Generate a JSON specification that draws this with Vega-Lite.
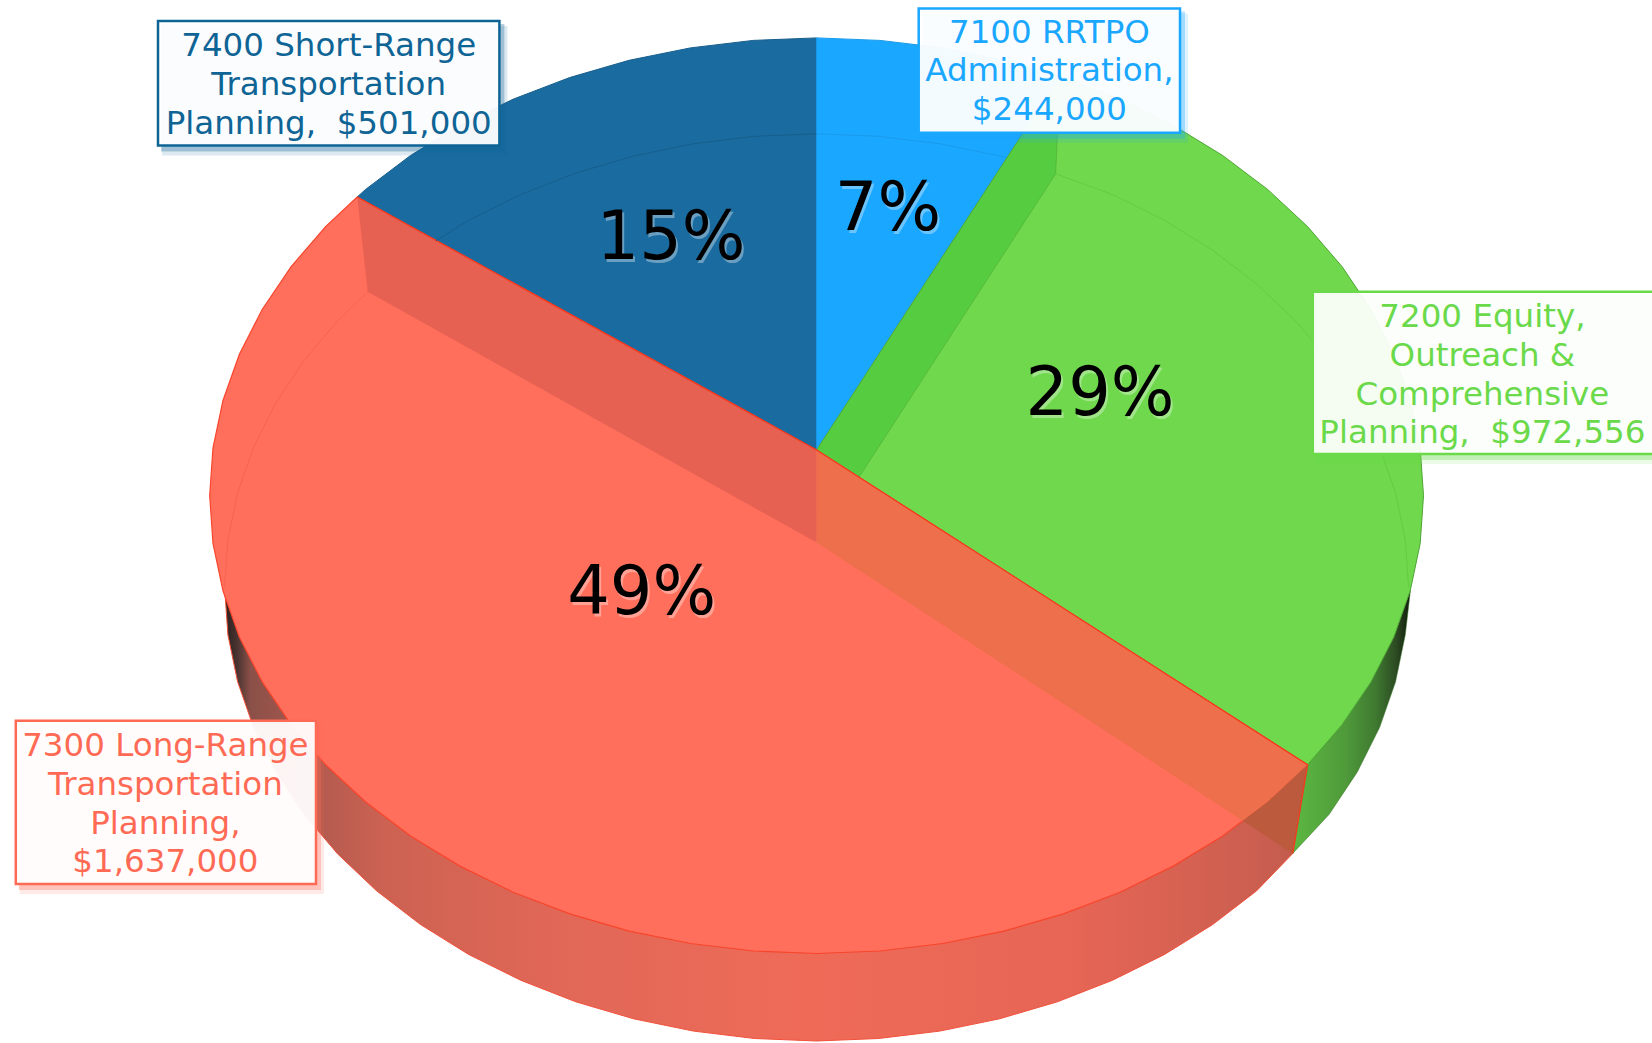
{
"$schema":"https://vega.github.io/schema/vega-lite/v6.json",
"width":1652,"height":1043,"padding":0,"autosize":{"type":"fit","contains":"padding"},"background":"white",
"config":{"view":{"stroke":null}},
"datasets":{
"budget":[
{"code":7100,"label":"7100 RRTPO\nAdministration,\n$244,000","amount":244000,"pct":"7%"},
{"code":7200,"label":"7200 Equity,\nOutreach &\nComprehensive\nPlanning,\u00a0 $972,556","amount":972556,"pct":"29%"},
{"code":7300,"label":"7300 Long-Range\nTransportation\nPlanning,\n$1,637,000","amount":1637000,"pct":"49%"},
{"code":7400,"label":"7400 Short-Range\nTransportation\nPlanning,\u00a0 $501,000","amount":501000,"pct":"15%"}],
"redWall":[{"x":1292.8,"y":853.4},{"x":1256.5,"y":890.9},{"x":1212.7,"y":924.5},{"x":1164.6,"y":954.4},{"x":1112.6,"y":980.2},{"x":1057.4,"y":1001.8},{"x":999.5,"y":1018.8},{"x":939.7,"y":1031.1},{"x":878.5,"y":1038.5},{"x":816.6,"y":1041},{"x":754.7,"y":1038.5},{"x":693.5,"y":1031.1},{"x":633.7,"y":1018.8},{"x":575.8,"y":1001.8},{"x":520.6,"y":980.2},{"x":468.6,"y":954.4},{"x":420.5,"y":924.5},{"x":376.7,"y":890.9},{"x":337.7,"y":854},{"x":303.9,"y":814.2},{"x":275.8,"y":771.9},{"x":253.6,"y":727.6},{"x":237.6,"y":681.7},{"x":227.9,"y":634.8},{"x":224.6,"y":587.4},{"x":816.6,"y":600},{"x":1270,"y":790}],
"greenWall":[{"x":1307.6,"y":764.8},{"x":1292.8,"y":853.4},{"x":1329.3,"y":814.2},{"x":1357.4,"y":771.9},{"x":1379.6,"y":727.6},{"x":1395.6,"y":681.7},{"x":1405.3,"y":634.8},{"x":1410.5,"y":590},{"x":1300,"y":600}],
"blue":[{"x":816.6,"y":450},{"x":357.2,"y":197},{"x":365.6,"y":189.4},{"x":410.5,"y":155.5},{"x":459.9,"y":125.3},{"x":513.1,"y":99.2},{"x":569.8,"y":77.5},{"x":629.1,"y":60.3},{"x":690.4,"y":47.9},{"x":753.2,"y":40.4},{"x":816.6,"y":37.9}],
"lightBlue":[{"x":816.6,"y":450},{"x":816.6,"y":37.9},{"x":880,"y":40.4},{"x":942.8,"y":47.9},{"x":1004.1,"y":60.3},{"x":1060,"y":76.5}],
"green":[{"x":816.6,"y":450},{"x":1060,"y":76.5},{"x":1063.4,"y":77.5},{"x":1120.1,"y":99.2},{"x":1173.3,"y":125.3},{"x":1222.7,"y":155.5},{"x":1267.6,"y":189.4},{"x":1307.6,"y":226.6},{"x":1342.2,"y":266.8},{"x":1371,"y":309.5},{"x":1393.8,"y":354.2},{"x":1410.2,"y":400.5},{"x":1420.2,"y":447.9},{"x":1423.5,"y":495.7},{"x":1420.2,"y":543.5},{"x":1410.2,"y":590.9},{"x":1393.8,"y":637.2},{"x":1371,"y":681.9},{"x":1342.2,"y":724.6},{"x":1307.6,"y":764.8}],
"greenBand":[{"x":816.6,"y":450},{"x":1060,"y":76.5},{"x":1055.7,"y":173.8},{"x":816.6,"y":542.6}],
"red":[{"x":816.6,"y":450},{"x":1307.6,"y":764.8},{"x":1267.6,"y":802},{"x":1222.7,"y":835.9},{"x":1173.3,"y":866.1},{"x":1120.1,"y":892.2},{"x":1063.4,"y":913.9},{"x":1004.1,"y":931.1},{"x":942.8,"y":943.5},{"x":880,"y":951},{"x":816.6,"y":953.5},{"x":753.2,"y":951},{"x":690.4,"y":943.5},{"x":629.1,"y":931.1},{"x":569.8,"y":913.9},{"x":513.1,"y":892.2},{"x":459.9,"y":866.1},{"x":410.5,"y":835.9},{"x":365.6,"y":802},{"x":325.6,"y":764.8},{"x":291,"y":724.6},{"x":262.2,"y":681.9},{"x":239.4,"y":637.2},{"x":223,"y":590.9},{"x":213,"y":543.5},{"x":209.7,"y":495.7},{"x":213,"y":447.9},{"x":223,"y":400.5},{"x":239.4,"y":354.2},{"x":262.2,"y":309.5},{"x":291,"y":266.8},{"x":325.6,"y":226.6},{"x":357.2,"y":197}],
"leftBand":[{"x":816.6,"y":450},{"x":357.2,"y":197},{"x":367.7,"y":291.8},{"x":816.6,"y":542.6}],
"rightBand":[{"x":816.6,"y":450},{"x":1307.6,"y":764.8},{"x":1267.6,"y":802},{"x":1242.8,"y":820.7},{"x":816.6,"y":542.6}],
"wallWedge":[{"x":1307.6,"y":764.8},{"x":1292.8,"y":853.4},{"x":1242.8,"y":820.7},{"x":1267.6,"y":802}],
"redEdge":[{"x":357.2,"y":197},{"x":816.6,"y":450},{"x":1307.6,"y":764.8},{"x":1292.8,"y":853.4}],
"innerBlue":[{"x":436,"y":240.7},{"x":468.6,"y":220.4},{"x":520.6,"y":194.6},{"x":575.8,"y":173},{"x":633.7,"y":156},{"x":693.5,"y":143.7},{"x":754.7,"y":136.3},{"x":816.6,"y":133.8}],
"innerLight":[{"x":816.6,"y":133.8},{"x":878.5,"y":136.3},{"x":939.7,"y":143.7},{"x":999.5,"y":156},{"x":1006,"y":157.5}],
"innerGreen":[{"x":1055.7,"y":173.8},{"x":1112.6,"y":194.6},{"x":1164.6,"y":220.4},{"x":1212.7,"y":250.3},{"x":1256.5,"y":283.9},{"x":1295.5,"y":320.8},{"x":1329.3,"y":360.6},{"x":1357.4,"y":402.9},{"x":1379.6,"y":447.2},{"x":1395.6,"y":493.1},{"x":1405.3,"y":540},{"x":1408.6,"y":587.4}],
"innerRed":[{"x":367.7,"y":291.8},{"x":337.7,"y":320.8},{"x":303.9,"y":360.6},{"x":275.8,"y":402.9},{"x":253.6,"y":447.2},{"x":237.6,"y":493.1},{"x":227.9,"y":540},{"x":224.6,"y":587.4}]
},
"layer":[
{"encoding":{
"x":{"field":"x","type":"quantitative","scale":{"domain":[0,1652],"nice":false,"zero":false},"axis":null},
"y":{"field":"y","type":"quantitative","scale":{"domain":[1043,0],"nice":false,"zero":false},"axis":null},
"order":{"value":null}
},"layer":[
{"data":{"name":"redWall"},"mark":{"type":"line","interpolate":"linear-closed","strokeWidth":1,"stroke":"#f2503a","fill":{"gradient":"linear","x1":0,"y1":0,"x2":1,"y2":0,"stops":[{"offset":0,"color":"#2a1f1c"},{"offset":0.012,"color":"#4a3431"},{"offset":0.024,"color":"#8a5048"},{"offset":0.1,"color":"#b85c50"},{"offset":0.148,"color":"#cc6252"},{"offset":0.3,"color":"#e06757"},{"offset":0.55,"color":"#ef6b58"},{"offset":0.8,"color":"#e66555"},{"offset":0.96,"color":"#cc5f50"},{"offset":1,"color":"#c35c4e"}]}}},
{"data":{"name":"greenWall"},"mark":{"type":"line","interpolate":"linear-closed","strokeWidth":0.5,"stroke":"#3d7a2c","fill":{"gradient":"linear","x1":0,"y1":0,"x2":1,"y2":0,"stops":[{"offset":0,"color":"#5cb842"},{"offset":0.45,"color":"#4f9a3a"},{"offset":0.7,"color":"#3f7a30"},{"offset":0.88,"color":"#2c4a22"},{"offset":1,"color":"#101a0c"}]}}},
{"data":{"name":"blue"},"mark":{"type":"line","interpolate":"linear-closed","fill":"#1a6ca0","stroke":"#175e8c","strokeWidth":1}},
{"data":{"name":"lightBlue"},"mark":{"type":"line","interpolate":"linear-closed","fill":"#1aa7ff","stroke":"#1a9aea","strokeWidth":1}},
{"data":{"name":"green"},"mark":{"type":"line","interpolate":"linear-closed","fill":"#6fd84c","stroke":"#4fa535","strokeWidth":1}},
{"data":{"name":"greenBand"},"mark":{"type":"line","interpolate":"linear-closed","fill":"#56cc40","stroke":"#4fa535","strokeWidth":0.5}},
{"data":{"name":"red"},"mark":{"type":"line","interpolate":"linear-closed","fill":"#ff6f5c","stroke":"#f8452c","strokeWidth":1.2}},
{"data":{"name":"leftBand"},"mark":{"type":"line","interpolate":"linear-closed","fill":"#e66152","strokeWidth":0}},
{"data":{"name":"rightBand"},"mark":{"type":"line","interpolate":"linear-closed","fill":"#ee6f4b","strokeWidth":0}},
{"data":{"name":"wallWedge"},"mark":{"type":"line","interpolate":"linear-closed","fill":"#bb5a3c","strokeWidth":0}},
{"data":{"name":"redEdge"},"mark":{"type":"line","stroke":"#f8381e","strokeWidth":1.2}},
{"data":{"name":"innerBlue"},"mark":{"type":"line","stroke":"#175e8c","strokeWidth":1}},
{"data":{"name":"innerLight"},"mark":{"type":"line","stroke":"#1a9aea","strokeWidth":1}},
{"data":{"name":"innerGreen"},"mark":{"type":"line","stroke":"#63cc42","strokeWidth":1}},
{"data":{"name":"innerRed"},"mark":{"type":"line","stroke":"#f56450","strokeWidth":1}}
]},

{"data":{"name":"budget"},"transform":[{"filter":"datum.code==7400"}],"encoding":{"x":{"datum":158,"type":"quantitative","scale":{"domain":[0,1652],"nice":false,"zero":false},"axis":null},"x2":{"datum":499.4},"y":{"datum":21,"type":"quantitative","scale":{"domain":[1043,0],"nice":false,"zero":false},"axis":null},"y2":{"datum":145.4}},
 "layer":[{"mark":{"type":"rect","fill":"#0f6496","opacity":0.14,"xOffset":4,"yOffset":5,"x2Offset":8,"y2Offset":10}},{"mark":{"type":"rect","fill":"#0f6496","opacity":0.3,"xOffset":3,"yOffset":3,"x2Offset":5,"y2Offset":6}},{"mark":{"type":"rect","fill":"#ffffff","fillOpacity":0.95,"stroke":"#0f6496","strokeWidth":2.5}}]},
{"data":{"name":"budget"},"transform":[{"filter":"datum.code==7100"}],"encoding":{"x":{"datum":918.7,"type":"quantitative","scale":{"domain":[0,1652],"nice":false,"zero":false},"axis":null},"x2":{"datum":1180},"y":{"datum":8.4,"type":"quantitative","scale":{"domain":[1043,0],"nice":false,"zero":false},"axis":null},"y2":{"datum":132.8}},
 "layer":[{"mark":{"type":"rect","fill":"#1aa7ff","opacity":0.14,"xOffset":4,"yOffset":5,"x2Offset":8,"y2Offset":10}},{"mark":{"type":"rect","fill":"#1aa7ff","opacity":0.3,"xOffset":3,"yOffset":3,"x2Offset":5,"y2Offset":6}},{"mark":{"type":"rect","fill":"#ffffff","fillOpacity":0.95,"stroke":"#1aa7ff","strokeWidth":2.5}}]},
{"data":{"name":"budget"},"transform":[{"filter":"datum.code==7200"}],"encoding":{"x":{"datum":1312.8,"type":"quantitative","scale":{"domain":[0,1652],"nice":false,"zero":false},"axis":null},"x2":{"datum":1670},"y":{"datum":291.8,"type":"quantitative","scale":{"domain":[1043,0],"nice":false,"zero":false},"axis":null},"y2":{"datum":454}},
 "layer":[{"mark":{"type":"rect","clip":true,"fill":"#6ad94a","opacity":0.14,"xOffset":4,"yOffset":5,"x2Offset":8,"y2Offset":10}},{"mark":{"type":"rect","clip":true,"fill":"#6ad94a","opacity":0.3,"xOffset":3,"yOffset":3,"x2Offset":5,"y2Offset":6}},{"mark":{"type":"rect","clip":true,"fill":"#ffffff","fillOpacity":0.93,"stroke":"#6ad94a","strokeWidth":2.5}}]},
{"data":{"name":"budget"},"transform":[{"filter":"datum.code==7300"}],"encoding":{"x":{"datum":15.8,"type":"quantitative","scale":{"domain":[0,1652],"nice":false,"zero":false},"axis":null},"x2":{"datum":316},"y":{"datum":720.7,"type":"quantitative","scale":{"domain":[1043,0],"nice":false,"zero":false},"axis":null},"y2":{"datum":884}},
 "layer":[{"mark":{"type":"rect","fill":"#ff6a55","opacity":0.14,"xOffset":4,"yOffset":5,"x2Offset":8,"y2Offset":10}},{"mark":{"type":"rect","fill":"#ff6a55","opacity":0.3,"xOffset":3,"yOffset":3,"x2Offset":5,"y2Offset":6}},{"mark":{"type":"rect","fill":"#ffffff","fillOpacity":0.94,"stroke":"#ff6a55","strokeWidth":2.5}}]},

{"data":{"name":"budget"},"transform":[{"filter":"datum.code==7400"}],"mark":{"type":"text","font":"DejaVu Sans","fontSize":32.5,"lineBreak":"\n","lineHeight":38.8,"align":"center","baseline":"middle","fill":"#0f6496"},"encoding":{"x":{"datum":328.7,"type":"quantitative","scale":{"domain":[0,1652],"nice":false,"zero":false},"axis":null},"y":{"datum":46.4,"type":"quantitative","scale":{"domain":[1043,0],"nice":false,"zero":false},"axis":null},"text":{"field":"label"}}},
{"data":{"name":"budget"},"transform":[{"filter":"datum.code==7100"}],"mark":{"type":"text","font":"DejaVu Sans","fontSize":32.5,"lineBreak":"\n","lineHeight":38.8,"align":"center","baseline":"middle","fill":"#1aa7ff"},"encoding":{"x":{"datum":1049.4,"type":"quantitative","scale":{"domain":[0,1652],"nice":false,"zero":false},"axis":null},"y":{"datum":32.7,"type":"quantitative","scale":{"domain":[1043,0],"nice":false,"zero":false},"axis":null},"text":{"field":"label"}}},
{"data":{"name":"budget"},"transform":[{"filter":"datum.code==7200"}],"mark":{"type":"text","font":"DejaVu Sans","fontSize":32.5,"lineBreak":"\n","lineHeight":38.8,"align":"center","baseline":"middle","fill":"#6ad94a"},"encoding":{"x":{"datum":1482.4,"type":"quantitative","scale":{"domain":[0,1652],"nice":false,"zero":false},"axis":null},"y":{"datum":317,"type":"quantitative","scale":{"domain":[1043,0],"nice":false,"zero":false},"axis":null},"text":{"field":"label"}}},
{"data":{"name":"budget"},"transform":[{"filter":"datum.code==7300"}],"mark":{"type":"text","font":"DejaVu Sans","fontSize":32.5,"lineBreak":"\n","lineHeight":38.8,"align":"center","baseline":"middle","fill":"#ff6a55"},"encoding":{"x":{"datum":165.4,"type":"quantitative","scale":{"domain":[0,1652],"nice":false,"zero":false},"axis":null},"y":{"datum":746,"type":"quantitative","scale":{"domain":[1043,0],"nice":false,"zero":false},"axis":null},"text":{"field":"label"}}},

{"data":{"name":"budget"},"transform":[{"filter":"datum.code==7400"}],"encoding":{"x":{"datum":671,"type":"quantitative","scale":{"domain":[0,1652],"nice":false,"zero":false},"axis":null},"y":{"datum":239,"type":"quantitative","scale":{"domain":[1043,0],"nice":false,"zero":false},"axis":null},"text":{"field":"pct"}},"layer":[{"mark":{"type":"text","font":"DejaVu Sans","fontSize":67,"align":"center","baseline":"middle","fill":"#ffffff","opacity":0.35,"dx":2,"dy":3}},{"mark":{"type":"text","font":"DejaVu Sans","fontSize":67,"align":"center","baseline":"middle","fill":"#000000"}}]},
{"data":{"name":"budget"},"transform":[{"filter":"datum.code==7100"}],"encoding":{"x":{"datum":888,"type":"quantitative","scale":{"domain":[0,1652],"nice":false,"zero":false},"axis":null},"y":{"datum":209.5,"type":"quantitative","scale":{"domain":[1043,0],"nice":false,"zero":false},"axis":null},"text":{"field":"pct"}},"layer":[{"mark":{"type":"text","font":"DejaVu Sans","fontSize":67,"align":"center","baseline":"middle","fill":"#ffffff","opacity":0.35,"dx":2,"dy":3}},{"mark":{"type":"text","font":"DejaVu Sans","fontSize":67,"align":"center","baseline":"middle","fill":"#000000"}}]},
{"data":{"name":"budget"},"transform":[{"filter":"datum.code==7200"}],"encoding":{"x":{"datum":1100,"type":"quantitative","scale":{"domain":[0,1652],"nice":false,"zero":false},"axis":null},"y":{"datum":395,"type":"quantitative","scale":{"domain":[1043,0],"nice":false,"zero":false},"axis":null},"text":{"field":"pct"}},"layer":[{"mark":{"type":"text","font":"DejaVu Sans","fontSize":67,"align":"center","baseline":"middle","fill":"#ffffff","opacity":0.35,"dx":2,"dy":3}},{"mark":{"type":"text","font":"DejaVu Sans","fontSize":67,"align":"center","baseline":"middle","fill":"#000000"}}]},
{"data":{"name":"budget"},"transform":[{"filter":"datum.code==7300"}],"encoding":{"x":{"datum":641.6,"type":"quantitative","scale":{"domain":[0,1652],"nice":false,"zero":false},"axis":null},"y":{"datum":594,"type":"quantitative","scale":{"domain":[1043,0],"nice":false,"zero":false},"axis":null},"text":{"field":"pct"}},"layer":[{"mark":{"type":"text","font":"DejaVu Sans","fontSize":67,"align":"center","baseline":"middle","fill":"#ffffff","opacity":0.35,"dx":2,"dy":3}},{"mark":{"type":"text","font":"DejaVu Sans","fontSize":67,"align":"center","baseline":"middle","fill":"#000000"}}]}
]
}
